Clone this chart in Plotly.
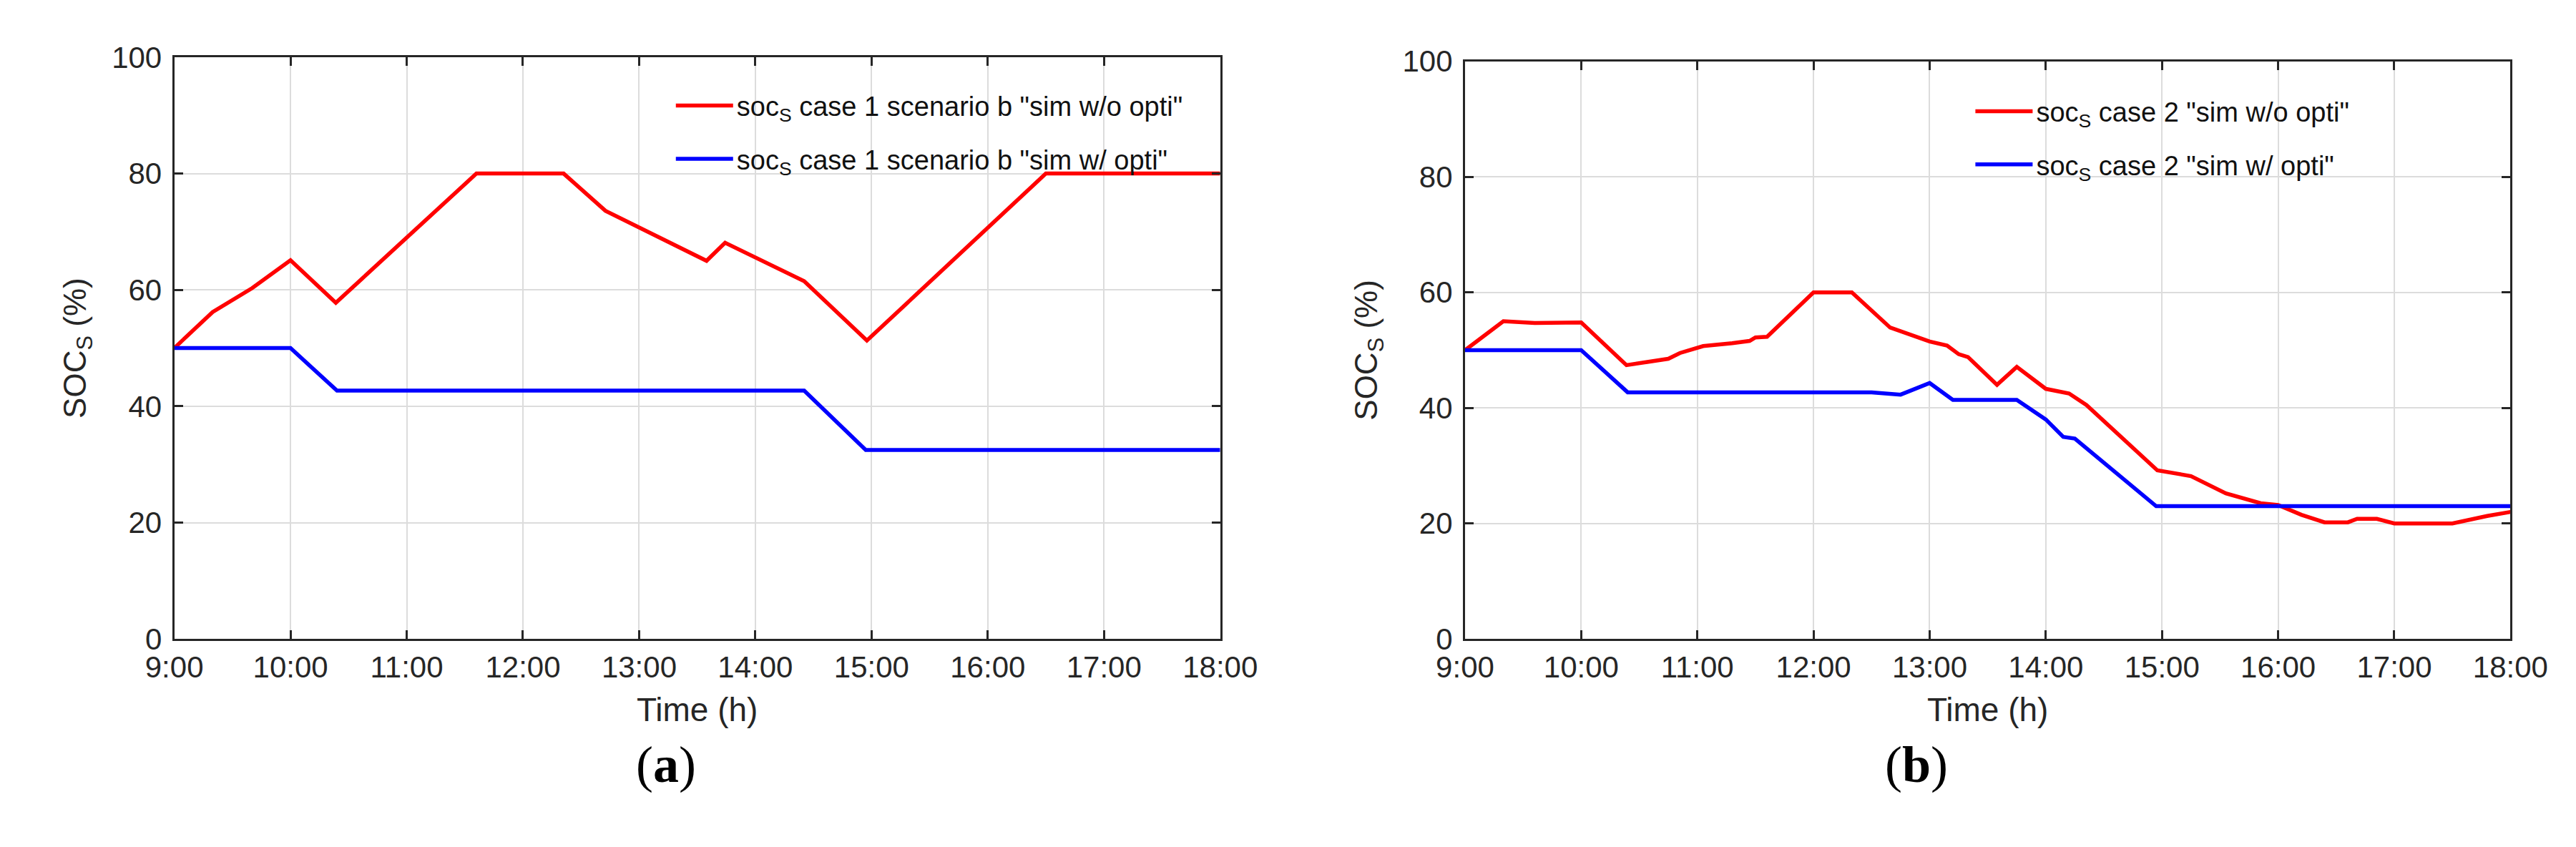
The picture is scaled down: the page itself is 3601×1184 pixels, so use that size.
import plotly.graph_objects as go

# time in hours, SOC in %
a_red_t = [9.0, 9.33, 9.67, 10.0, 10.39, 11.6, 12.35, 12.71, 13.58, 13.74, 14.42, 14.96, 16.5, 18.0]
a_red_v = [50, 56.2, 60.3, 65.1, 57.8, 80, 80, 73.6, 65, 68.1, 61.5, 51.3, 80, 80]
a_blue_t = [9.0, 10.0, 10.4, 14.42, 14.95, 18.0]
a_blue_v = [50, 50, 42.7, 42.7, 32.5, 32.5]

b_red_t = [9.0, 9.33, 9.6, 10.0, 10.39, 10.75, 10.85, 11.05, 11.3, 11.45, 11.5, 11.6, 12.0, 12.33,
           12.66, 13.0, 13.15, 13.25, 13.33, 13.58, 13.75, 14.0, 14.2, 14.35, 14.96, 15.25, 15.55,
           15.85, 16.0, 16.2, 16.4, 16.6, 16.68, 16.85, 17.0, 17.5, 17.8, 18.0]
b_red_v = [50, 55, 54.7, 54.8, 47.4, 48.5, 49.5, 50.7, 51.2, 51.6, 52.2, 52.3, 60, 60,
           53.9, 51.5, 50.8, 49.3, 48.8, 44, 47.1, 43.3, 42.5, 40.5, 29.2, 28.2, 25.2,
           23.5, 23.2, 21.5, 20.2, 20.2, 20.8, 20.8, 20, 20, 21.3, 22]
b_blue_t = [9.0, 10.0, 10.4, 12.5, 12.75, 13.0, 13.2, 13.75, 14.0, 14.15, 14.25, 14.95, 18.0]
b_blue_v = [50, 50, 42.7, 42.7, 42.3, 44.3, 41.4, 41.4, 38, 35, 34.7, 23, 23]

tick_hours = list(range(9, 19))
tick_labels = [f"{h}:00" for h in tick_hours]
y_ticks = [0, 20, 40, 60, 80, 100]

FONT = "Liberation Sans Narrow, Arial Narrow, Liberation Sans, sans-serif"
LW = 5.5

fig = go.Figure()
fig.add_trace(go.Scatter(x=a_red_t, y=a_red_v, mode="lines", line=dict(color="#ff0000", width=LW),
                         name='soc<sub>S</sub> case 1 scenario b "sim w/o opti"', legend="legend", legendgroup="a1"))
fig.add_trace(go.Scatter(x=a_blue_t, y=a_blue_v, mode="lines", line=dict(color="#0000ff", width=LW),
                         name='soc<sub>S</sub> case 1 scenario b "sim w/ opti"', legend="legend", legendgroup="a2"))
fig.add_trace(go.Scatter(x=b_red_t, y=b_red_v, mode="lines", line=dict(color="#ff0000", width=LW),
                         name='soc<sub>S</sub> case 2 "sim w/o opti"', xaxis="x2", yaxis="y2",
                         legend="legend2", legendgroup="b1"))
fig.add_trace(go.Scatter(x=b_blue_t, y=b_blue_v, mode="lines", line=dict(color="#0000ff", width=LW),
                         name='soc<sub>S</sub> case 2 "sim w/ opti"', xaxis="x2", yaxis="y2",
                         legend="legend2", legendgroup="b2"))

xax = dict(range=[9, 18], tickvals=tick_hours, ticktext=tick_labels, showgrid=True,
           gridcolor="#dcdcdc", gridwidth=2, showline=True, linecolor="#262626", linewidth=3,
           mirror="ticks", ticks="inside", ticklen=12, tickwidth=2.5, tickcolor="#262626", zeroline=False,
           tickfont=dict(size=42, color="#262626", family=FONT),
           title=dict(text="Time (h)", font=dict(size=46, color="#262626", family=FONT), standoff=22))
yax = dict(range=[0, 100], tickvals=y_ticks, showgrid=True, gridcolor="#dcdcdc", gridwidth=2,
           showline=True, linecolor="#262626", linewidth=3, mirror="ticks", ticks="inside",
           ticklen=12, tickwidth=2.5, tickcolor="#262626", zeroline=False, ticklabelstandoff=6,
           tickfont=dict(size=42, color="#262626", family=FONT),
           title=dict(text="SOC<sub>S</sub> (%)", font=dict(size=44, color="#262626",
                      family="Liberation Sans, Arial, sans-serif"), standoff=22))

leg = dict(bgcolor="rgba(0,0,0,0)", font=dict(size=38, color="#111", family=FONT),
           xanchor="left", yanchor="top", tracegroupgap=22, itemwidth=80)

fig.update_layout(
    width=3601, height=1184, paper_bgcolor="white", plot_bgcolor="white",
    margin=dict(l=0, r=0, t=0, b=0),
    xaxis=dict(xax, domain=[0.0555, 0.4724], anchor="y"),
    yaxis=dict(yax, domain=[0.2416, 0.957], anchor="x"),
    xaxis2=dict(xax, domain=[0.570, 0.9867], anchor="y2"),
    yaxis2=dict(yax, domain=[0.2416, 0.952], anchor="x2"),
    legend=dict(leg, x=0.254, y=0.925),
    legend2=dict(leg, x=0.772, y=0.918),
    showlegend=True,
)
fig.add_annotation(x=0.239, y=0.05, xref="paper", yref="paper", showarrow=False,
                   text="(<b>a</b>)", font=dict(size=72, color="black", family="Liberation Serif, Times New Roman, serif"))
fig.add_annotation(x=0.763, y=0.05, xref="paper", yref="paper", showarrow=False,
                   text="(<b>b</b>)", font=dict(size=72, color="black", family="Liberation Serif, Times New Roman, serif"))

fig.write_html("out.html")
